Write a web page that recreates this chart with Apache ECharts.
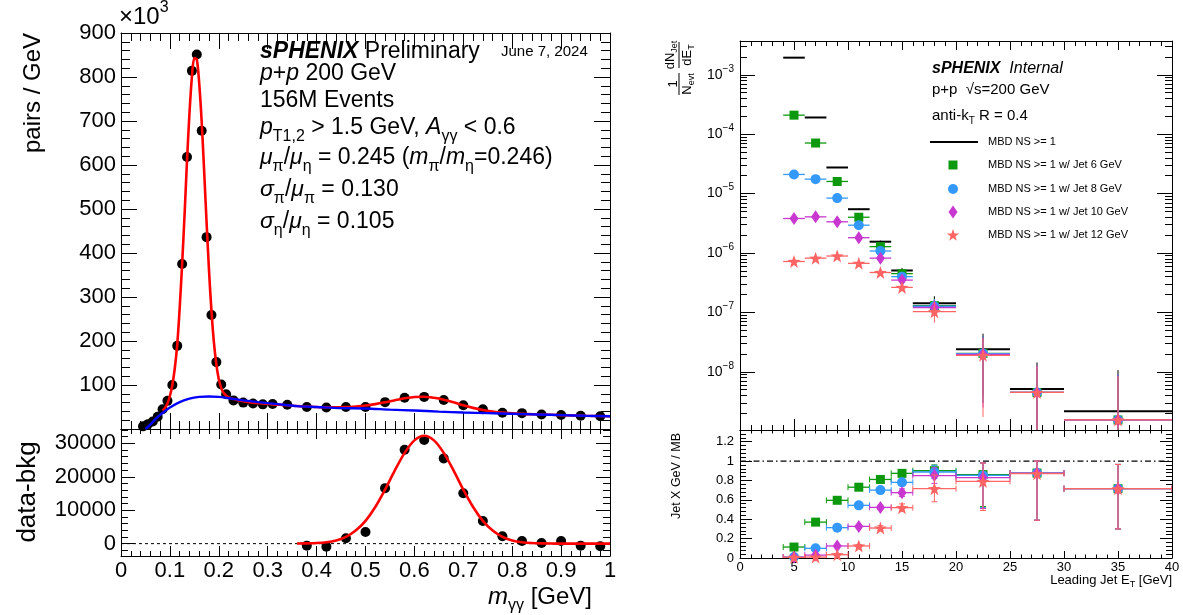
<!DOCTYPE html>
<html><head><meta charset="utf-8">
<script src="https://cdn.jsdelivr.net/npm/echarts@6/dist/echarts.min.js"></script>
<style>html,body{margin:0;padding:0;background:#fff}#c{width:1183px;height:615px}</style>
</head><body><div id="c"></div>
<script>
const FONT = '"Liberation Sans", Arial, Helvetica, sans-serif';

// ================= LEFT: diphoton invariant mass =================
const massX  = [0.045,0.055,0.065,0.075,0.085,0.095,0.105,0.115,0.125,0.135,0.145,0.155,0.165,0.175,0.185,0.195,0.205,0.215,0.23,0.25,0.27,0.29,0.31,0.34,0.38,0.42,0.46,0.50,0.54,0.58,0.62,0.66,0.70,0.74,0.78,0.82,0.86,0.90,0.94,0.98];
const pairsK = [6,11,17,28,45,64,100,189,375,618,814,851,678,436,259,152,101,79,65,60,58,56,57,55,50,49,50,50,61,71,73,66,54,45,37,36,33,32,30,29];

const bkgFitX = [0.05,0.06,0.07,0.08,0.09,0.10,0.12,0.14,0.16,0.18,0.20,0.22,0.25,0.28,0.32,0.36,0.40,0.45,0.50,0.55,0.60,0.65,0.70,0.75,0.80,0.85,0.90,0.95,1.0];
const bkgFitY = [0,10,22,32,41,49,61,69,73,74,73,70,65,61,56.5,52,50,47.5,46.5,44,42,39.5,37.5,36,34.5,33,31.5,30,29];

const pi0FitX = [0.085,0.09,0.095,0.10,0.105,0.11,0.115,0.12,0.125,0.13,0.135,0.14,0.145,0.15,0.155,0.16,0.165,0.17,0.175,0.18,0.185,0.19,0.195,0.20,0.205,0.21,0.215,0.22,0.23,0.25,0.27,0.29,0.31,0.33,0.35];
const pi0FitY = [42,48,58,75,100,138,192,275,375,487,610,717,800,843,840,785,698,587,470,360,268,197,147,113,93,82,76,72,68,63,60,58,56,54.5,53];

const etaFitX = [0.35,0.38,0.42,0.46,0.48,0.50,0.52,0.54,0.56,0.58,0.60,0.62,0.64,0.66,0.68,0.70,0.72,0.74,0.76,0.78,0.82,0.86,0.90,0.95,1.0];
const etaFitY = [53,51.1,49.4,49.8,51.1,53.3,56.5,60.7,65.4,69.7,72.9,73.3,70.9,66.7,60.7,53.7,48,43.2,39.9,37.3,34.4,33.1,31.5,30,29];

const subX = [0.38,0.42,0.46,0.50,0.54,0.58,0.62,0.66,0.70,0.74,0.78,0.82,0.86,0.90,0.94,0.98];
const subY = [-600,-900,1600,3500,16600,28100,31000,25500,15100,6750,2200,800,200,800,-600,-800];
const subFitX = [0.36,0.38,0.40,0.42,0.44,0.46,0.48,0.50,0.52,0.54,0.56,0.58,0.60,0.62,0.64,0.66,0.68,0.70,0.72,0.74,0.76,0.78,0.80,0.82,0.84,0.86,0.88,0.90,0.95,1.0];
const subFitY = [20,64,170,425,970,2030,3900,6800,10950,16150,21900,27150,30900,32300,30900,27150,21900,16150,10950,6800,3900,2030,970,425,170,64,20,6,0,0];
const subZero = 0;

const massTickLabels  = [0,0.1,0.2,0.3,0.4,0.5,0.6,0.7,0.8,0.9,1];
const pairsTickLabels = [100,200,300,400,500,600,700,800,900];
const subTickLabels   = [0,10000,20000,30000];

// ================= RIGHT: leading jet ET spectra =================
const etCenters = [5,7,9,11,13,15,18,22.5,27.5,35];
const etLow     = [4,6,8,10,12,14,16,20,25,30];
const etHigh    = [6,8,10,12,14,16,20,25,30,40];

const specMB    = [1.94e-3,1.91e-4,2.75e-5,5.46e-6,1.55e-6,5.08e-7,1.43e-7,2.39e-8,5.13e-9,2.17e-9];
const specMBHi  = [1.96e-3,1.93e-4,2.79e-5,5.6e-6,1.62e-6,5.6e-7,1.87e-7,4.4e-8,1.44e-8,1.07e-8];
const specMBLo  = [1.92e-3,1.89e-4,2.71e-5,5.3e-6,1.48e-6,4.6e-7,1.05e-7,4e-9,1e-10,1e-10];

const specJet6   = [2.09e-4,7.1e-5,1.6e-5,4.0e-6,1.28e-6,4.5e-7,1.30e-7,2.05e-8,4.5e-9,1.55e-9];
const specJet6Hi = [2.12e-4,7.25e-5,1.65e-5,4.15e-6,1.34e-6,4.9e-7,1.7e-7,4.0e-8,1.3e-8,9.2e-9];
const specJet6Lo = [2.06e-4,6.95e-5,1.55e-5,3.85e-6,1.22e-6,4.1e-7,0.95e-7,3e-9,1e-10,1e-10];

const specJet8   = [2.1e-5,1.75e-5,8.4e-6,2.94e-6,1.08e-6,4.0e-7,1.27e-7,2.03e-8,4.5e-9,1.55e-9];
const specJet8Hi = [2.15e-5,1.8e-5,8.7e-6,3.05e-6,1.14e-6,4.4e-7,1.68e-7,4.0e-8,1.3e-8,9.2e-9];
const specJet8Lo = [2.05e-5,1.7e-5,8.1e-6,2.83e-6,1.02e-6,3.6e-7,0.9e-7,3e-9,1e-10,1e-10];

const specJet10   = [3.81e-6,4.06e-6,3.35e-6,1.81e-6,8.2e-7,3.5e-7,1.21e-7,1.97e-8,4.5e-9,1.55e-9];
const specJet10Hi = [3.95e-6,4.2e-6,3.5e-6,1.9e-6,8.7e-7,3.85e-7,1.62e-7,3.9e-8,1.3e-8,9.0e-9];
const specJet10Lo = [3.67e-6,3.92e-6,3.2e-6,1.72e-6,7.7e-7,3.15e-7,0.85e-7,2.5e-9,1e-10,1e-10];

const specJet12   = [7.2e-7,8.2e-7,8.9e-7,6.7e-7,4.7e-7,2.64e-7,1.03e-7,1.9e-8,4.5e-9,1.55e-9];
const specJet12Hi = [7.55e-7,8.6e-7,9.3e-7,7.1e-7,5.05e-7,2.95e-7,1.5e-7,3.7e-8,1.26e-8,8.5e-9];
const specJet12Lo = [6.85e-7,7.8e-7,8.5e-7,6.3e-7,4.35e-7,2.35e-7,6.7e-8,1.74e-9,1e-10,1e-10];

const ratioJet6    = [0.113,0.37,0.595,0.73,0.81,0.873,0.90,0.86,0.876,0.715];
const ratioJet6Lo  = [0.108,0.362,0.585,0.718,0.795,0.855,0.84,0.53,0.39,0.30];
const ratioJet6Hi  = [0.118,0.378,0.605,0.742,0.825,0.891,0.96,0.98,1.0,0.965];
const ratioJet8    = [0.01,0.10,0.313,0.543,0.70,0.78,0.887,0.852,0.876,0.715];
const ratioJet8Lo  = [0.008,0.095,0.305,0.532,0.685,0.76,0.82,0.52,0.39,0.30];
const ratioJet8Hi  = [0.012,0.105,0.321,0.554,0.715,0.80,0.955,0.98,1.0,0.965];
const ratioJet10   = [0.007,0.03,0.124,0.326,0.522,0.674,0.85,0.828,0.876,0.715];
const ratioJet10Lo = [0.005,0.026,0.116,0.312,0.5,0.635,0.77,0.51,0.39,0.30];
const ratioJet10Hi = [0.009,0.034,0.132,0.34,0.544,0.713,0.93,0.98,1.0,0.965];
const ratioJet12   = [0.007,0.01,0.034,0.124,0.309,0.519,0.715,0.79,0.87,0.715];
const ratioJet12Lo = [0.005,0.007,0.028,0.108,0.285,0.48,0.58,0.49,0.39,0.30];
const ratioJet12Hi = [0.009,0.013,0.04,0.14,0.333,0.558,0.855,0.98,1.0,0.965];
const ratioRef = 1;

const etTickLabels    = [0,5,10,15,20,25,30,35,40];
const logTickLabels   = [1e-8,1e-7,1e-6,1e-5,1e-4,1e-3];
const ratioTickLabels = [0,0.2,0.4,0.6,0.8,1,1.2];

const legendNames = ['MBD NS >= 1','MBD NS >= 1 w/ Jet 6 GeV','MBD NS >= 1 w/ Jet 8 GeV','MBD NS >= 1 w/ Jet 10 GeV','MBD NS >= 1 w/ Jet 12 GeV'];
const COLORS = {mb:'#000000', j6:'#0d990d', j8:'#3399ff', j10:'#c837cf', j12:'#ff6464'};

// ---------------- axis ranges ----------------
const MASS = [0, 1], PAIRS = [0, 900], SUB = [-3700, 34300];
const ET = [0, 40], SPEC = [1.05e-9, 3.7e-3], RATIO = [0, 1.32];

function range(a, b, step) { const out = []; for (let v = a; v <= b + step * 1e-6; v += step) out.push(Math.round(v * 1e6) / 1e6); return out; }
function logMinor(e0, e1) { const out = []; for (let e = e0; e <= e1; e++) for (let k = 2; k <= 9; k++) out.push(k * Math.pow(10, e)); return out; }

const xAxes = [], yAxes = [];
function addAxes(list, gridIndex, position, type, ext, majors, minors, majLen, minLen, label) {
  const common = {type, gridIndex, position, min: ext[0], max: ext[1],
    splitLine: {show: false}, minorTick: {show: false}, minorSplitLine: {show: false}};
  if (type === 'log') common.logBase = 10;
  const maj = Object.assign({}, common, {
    axisLine: {show: true, onZero: false, lineStyle: {color: '#000', width: 1}},
    axisTick: {show: true, inside: true, length: majLen, customValues: majors, lineStyle: {color: '#000', width: 1}},
    axisLabel: label ? Object.assign({show: true, customValues: label.values, color: '#000', fontFamily: FONT, hideOverlap: false}, label.style) : {show: false}
  });
  const mnr = Object.assign({}, common, {
    axisLine: {show: false, onZero: false},
    axisTick: {show: true, inside: true, length: minLen, customValues: minors, lineStyle: {color: '#000', width: 1}},
    axisLabel: {show: false}
  });
  list.push(maj, mnr);
  return list.length - 2;
}
const plain = v => String(v);

// grid 0: left top
const massMaj = range(0, 1, 0.1), massMin = range(0, 1, 0.02);
const gx0 = addAxes(xAxes, 0, 'bottom', 'value', MASS, massMaj, massMin, 16, 8, null);
addAxes(xAxes, 0, 'top', 'value', MASS, massMaj, massMin, 16, 8, null);
const gy0 = addAxes(yAxes, 0, 'left', 'value', PAIRS, range(0, 900, 100), range(0, 900, 20), 16, 9,
  {values: pairsTickLabels, style: {fontSize: 22, margin: 5, formatter: plain}});
addAxes(yAxes, 0, 'right', 'value', PAIRS, range(0, 900, 100), range(0, 900, 20), 16, 9, null);
// grid 1: left bottom
const gx1 = addAxes(xAxes, 1, 'bottom', 'value', MASS, massMaj, massMin, 10, 5,
  {values: massTickLabels, style: {fontSize: 22, margin: 4, formatter: plain}});
addAxes(xAxes, 1, 'top', 'value', MASS, massMaj, massMin, 10, 5, null);
const gy1 = addAxes(yAxes, 1, 'left', 'value', SUB, subTickLabels, range(-2000, 34000, 2000), 14, 7,
  {values: subTickLabels, style: {fontSize: 22, margin: 5, formatter: plain}});
addAxes(yAxes, 1, 'right', 'value', SUB, subTickLabels, range(-2000, 34000, 2000), 14, 7, null);
// grid 2: right top
const etMaj = range(0, 40, 5), etMin = range(0, 40, 1);
const gx2 = addAxes(xAxes, 2, 'bottom', 'value', ET, etMaj, etMin, 11, 5, null);
addAxes(xAxes, 2, 'top', 'value', ET, etMaj, etMin, 9, 5, null);
const logLabelStyle = {
  fontSize: 14, margin: 6,
  formatter: v => { const e = Math.round(Math.log10(v)); return '{b|10}{s|' + (e < 0 ? '\u2212' : '') + Math.abs(e) + '}'; },
  rich: {b: {fontSize: 14, lineHeight: 22, fontFamily: FONT, color: '#000'}, s: {fontSize: 10, lineHeight: 10, verticalAlign: 'top', fontFamily: FONT, color: '#000'}}
};
const gy2 = addAxes(yAxes, 2, 'left', 'log', SPEC, logTickLabels, logMinor(-9, -3), 15, 7, {values: logTickLabels, style: logLabelStyle});
addAxes(yAxes, 2, 'right', 'log', SPEC, logTickLabels, logMinor(-9, -3), 15, 7, null);
// grid 3: right bottom
const gx3 = addAxes(xAxes, 3, 'bottom', 'value', ET, etMaj, etMin, 7, 3.5,
  {values: etTickLabels, style: {fontSize: 13, margin: 3, formatter: plain}});
addAxes(xAxes, 3, 'top', 'value', ET, etMaj, etMin, 7, 3.5, null);
const gy3 = addAxes(yAxes, 3, 'left', 'value', RATIO, range(0, 1.2, 0.2), range(0, 1.32, 0.04), 12, 6,
  {values: ratioTickLabels, style: {fontSize: 13, margin: 6, formatter: plain}});
addAxes(yAxes, 3, 'right', 'value', RATIO, range(0, 1.2, 0.2), range(0, 1.32, 0.04), 12, 6, null);

// ---------------- series helpers ----------------
const zip = (xs, ys) => xs.map((x, i) => [x, ys[i]]);

function errSeries(name, xi, yi, color, vals, lo, hi, hw, vw, cap, z) {
  const data = etCenters.map((x, i) => [x, vals[i], etLow[i], etHigh[i], lo[i], hi[i]]);
  return {
    type: 'custom', name, xAxisIndex: xi, yAxisIndex: yi, clip: true, silent: true, z,
    encode: {x: 0, y: 1}, data,
    renderItem: (params, api) => {
      const y = api.value(1), x = api.value(0);
      const pL = api.coord([api.value(2), y]), pR = api.coord([api.value(3), y]);
      const pB = api.coord([x, api.value(4)]), pT = api.coord([x, api.value(5)]);
      const ch = [
        {type: 'line', shape: {x1: pL[0], y1: pL[1], x2: pR[0], y2: pR[1]}, style: {stroke: color, lineWidth: hw}},
        {type: 'line', shape: {x1: pB[0], y1: pB[1], x2: pT[0], y2: pT[1]}, style: {stroke: color, lineWidth: vw}}
      ];
      if (cap) {
        ch.push({type: 'line', shape: {x1: pL[0], y1: pL[1] - cap, x2: pL[0], y2: pL[1] + cap}, style: {stroke: color, lineWidth: 1}});
        ch.push({type: 'line', shape: {x1: pR[0], y1: pR[1] - cap, x2: pR[0], y2: pR[1] + cap}, style: {stroke: color, lineWidth: 1}});
        ch.push({type: 'line', shape: {x1: pB[0] - cap, y1: pB[1], x2: pB[0] + cap, y2: pB[1]}, style: {stroke: color, lineWidth: 1}});
        ch.push({type: 'line', shape: {x1: pT[0] - cap, y1: pT[1], x2: pT[0] + cap, y2: pT[1]}, style: {stroke: color, lineWidth: 1}});
      }
      return {type: 'group', children: ch};
    }
  };
}
const STAR = 'path://M50,0L62,34L98,35L69,56L79,91L50,70L21,91L31,56L2,35L38,34Z';
function markSeries(name, xi, yi, color, vals, symbol, size, z) {
  return {type: 'scatter', name, xAxisIndex: xi, yAxisIndex: yi, symbol, symbolSize: size, z,
    itemStyle: {color, opacity: 1}, silent: true, data: zip(etCenters, vals)};
}

const series = [
  // left top
  {type: 'scatter', name: 'data', xAxisIndex: gx0, yAxisIndex: gy0, symbol: 'circle', symbolSize: 10, z: 2,
   itemStyle: {color: '#000', opacity: 1}, data: zip(massX, pairsK)},
  {type: 'line', name: 'fit pi0', xAxisIndex: gx0, yAxisIndex: gy0, smooth: 0.3, showSymbol: false, symbol: 'none', z: 3,
   lineStyle: {color: '#ff0000', width: 2.6}, data: zip(pi0FitX, pi0FitY)},
  {type: 'line', name: 'fit eta', xAxisIndex: gx0, yAxisIndex: gy0, smooth: 0.3, showSymbol: false, symbol: 'none', z: 3,
   lineStyle: {color: '#ff0000', width: 2.6}, data: zip(etaFitX, etaFitY)},
  {type: 'line', name: 'bkg', xAxisIndex: gx0, yAxisIndex: gy0, smooth: 0.3, showSymbol: false, symbol: 'none', z: 4,
   lineStyle: {color: '#0000ff', width: 2.4}, data: zip(bkgFitX, bkgFitY)},
  // left bottom
  {type: 'line', name: 'zero', xAxisIndex: gx1, yAxisIndex: gy1, symbol: 'none', z: 1,
   lineStyle: {color: '#000', width: 1, type: [3, 3]}, data: [[MASS[0], subZero], [MASS[1], subZero]]},
  {type: 'scatter', name: 'data-bkg', xAxisIndex: gx1, yAxisIndex: gy1, symbol: 'circle', symbolSize: 10, z: 2,
   itemStyle: {color: '#000', opacity: 1}, data: zip(subX, subY)},
  {type: 'line', name: 'eta gauss', xAxisIndex: gx1, yAxisIndex: gy1, smooth: 0.3, symbol: 'none', z: 3,
   lineStyle: {color: '#ff0000', width: 2.6}, data: zip(subFitX, subFitY)},
  // right top
  errSeries(legendNames[0], gx2, gy2, COLORS.mb, specMB, specMBLo, specMBHi, 2, 1, 0, 3),
  errSeries(legendNames[1], gx2, gy2, COLORS.j6, specJet6, specJet6Lo, specJet6Hi, 1.3, 1, 0, 4),
  markSeries(legendNames[1], gx2, gy2, COLORS.j6, specJet6, 'rect', 9, 5),
  errSeries(legendNames[2], gx2, gy2, COLORS.j8, specJet8, specJet8Lo, specJet8Hi, 1.3, 1, 0, 6),
  markSeries(legendNames[2], gx2, gy2, COLORS.j8, specJet8, 'circle', 10, 7),
  errSeries(legendNames[3], gx2, gy2, COLORS.j10, specJet10, specJet10Lo, specJet10Hi, 1.3, 1, 0, 8),
  markSeries(legendNames[3], gx2, gy2, COLORS.j10, specJet10, 'diamond', [9, 13], 9),
  errSeries(legendNames[4], gx2, gy2, COLORS.j12, specJet12, specJet12Lo, specJet12Hi, 1.3, 1, 0, 10),
  markSeries(legendNames[4], gx2, gy2, COLORS.j12, specJet12, STAR, 13, 11),
  // right bottom
  {type: 'line', name: 'unity', xAxisIndex: gx3, yAxisIndex: gy3, symbol: 'none', z: 1,
   lineStyle: {color: '#000', width: 1.2, type: [6, 3, 1.5, 3]}, data: [[ET[0], ratioRef], [ET[1], ratioRef]]},
  errSeries('r6', gx3, gy3, COLORS.j6, ratioJet6, ratioJet6Lo, ratioJet6Hi, 1.3, 1, 3, 4),
  markSeries('r6', gx3, gy3, COLORS.j6, ratioJet6, 'rect', 9, 5),
  errSeries('r8', gx3, gy3, COLORS.j8, ratioJet8, ratioJet8Lo, ratioJet8Hi, 1.3, 1, 3, 6),
  markSeries('r8', gx3, gy3, COLORS.j8, ratioJet8, 'circle', 10, 7),
  errSeries('r10', gx3, gy3, COLORS.j10, ratioJet10, ratioJet10Lo, ratioJet10Hi, 1.3, 1, 3, 8),
  markSeries('r10', gx3, gy3, COLORS.j10, ratioJet10, 'diamond', [9, 13], 9),
  errSeries('r12', gx3, gy3, COLORS.j12, ratioJet12, ratioJet12Lo, ratioJet12Hi, 1.3, 1, 3, 10),
  markSeries('r12', gx3, gy3, COLORS.j12, ratioJet12, STAR, 13, 11)
];

// ---------------- text (graphic) ----------------
function T(x, y, text, rich, extra) {
  return Object.assign({type: 'text', x, y, silent: true, z: 100,
    style: Object.assign({text, rich, fill: '#000', align: 'left', verticalAlign: 'middle', fontFamily: FONT}, (extra && extra.style) || {})},
    (extra && extra.el) || {});
}
const LR = {
  n:  {fontSize: 23, lineHeight: 34, fontFamily: FONT},
  i:  {fontSize: 23, lineHeight: 34, fontFamily: FONT, fontStyle: 'italic'},
  bi: {fontSize: 23, lineHeight: 34, fontFamily: FONT, fontStyle: 'italic', fontWeight: 'bold'},
  s:  {fontSize: 16, lineHeight: 16, fontFamily: FONT, verticalAlign: 'bottom'},
  d:  {fontSize: 15, lineHeight: 34, fontFamily: FONT},
  p:  {fontSize: 16, lineHeight: 16, fontFamily: FONT, verticalAlign: 'top'},
  t:  {fontSize: 24, lineHeight: 34, fontFamily: FONT},
  ti: {fontSize: 24, lineHeight: 34, fontFamily: FONT, fontStyle: 'italic'}
};
const RR = {
  n:  {fontSize: 15, lineHeight: 20, fontFamily: FONT},
  i:  {fontSize: 16, lineHeight: 20, fontFamily: FONT, fontStyle: 'italic'},
  bi: {fontSize: 16, lineHeight: 20, fontFamily: FONT, fontStyle: 'italic', fontWeight: 'bold'},
  s:  {fontSize: 10, lineHeight: 10, fontFamily: FONT, verticalAlign: 'bottom'},
  l:  {fontSize: 11, lineHeight: 14, fontFamily: FONT},
  a:  {fontSize: 13, lineHeight: 18, fontFamily: FONT},
  as: {fontSize: 9, lineHeight: 9, fontFamily: FONT, verticalAlign: 'bottom'}
};
const ROT = Math.PI / 2;
const graphic = [
  // left panel texts
  T(119, 17, '{t|×10}{p|3}', LR),
  T(33, 93, '{t|pairs / GeV}', LR, {style: {align: 'center'}, el: {rotation: ROT}}),
  T(28, 492, '{t|data-bkg}', Object.assign({}, LR, {t: {fontSize: 26, lineHeight: 34, fontFamily: FONT}}), {style: {align: 'center'}, el: {rotation: ROT}}),
  T(592, 597, '{ti|m}{s|γγ}{t| [GeV]}', LR, {style: {align: 'right'}}),
  T(260, 52, '{bi|sPHENIX}{n| Preliminary}', LR),
  T(501, 52, '{d|June 7, 2024}', LR),
  T(260, 74, '{i|p}{n|+}{i|p}{n| 200 GeV}', LR),
  T(260, 101, '{n|156M Events}', LR),
  T(260, 128, '{i|p}{s|T1,2}{n| > 1.5 GeV, }{i|A}{s|γγ}{n| < 0.6}', LR),
  T(260, 158, '{i|μ}{s|π}{n|/}{i|μ}{s|η}{n| = 0.245 (}{i|m}{s|π}{n|/}{i|m}{s|η}{n|=0.246)}', LR),
  T(260, 190, '{i|σ}{s|π}{n|/}{i|μ}{s|π}{n| = 0.130}', LR),
  T(260, 222, '{i|σ}{s|η}{n|/}{i|μ}{s|η}{n| = 0.105}', LR),
  // right panel texts
  T(932, 69, '{bi|sPHENIX}{i|  Internal}', RR),
  T(932, 90, '{n|p+p  √s=200 GeV}', RR),
  T(932, 116, '{n|anti-k}{s|T}{n| R = 0.4}', RR),
  T(1172, 580, '{a|Leading Jet E}{as|T}{a| [GeV]}', RR, {style: {align: 'right'}}),
  T(677, 476, '{l|Jet X GeV / MB}', Object.assign({}, RR, {l: {fontSize: 12.5, lineHeight: 16, fontFamily: FONT}}), {style: {align: 'center'}, el: {rotation: ROT}}),
  // y-title fraction
  T(673, 84, '{a|1}', RR, {style: {align: 'center'}, el: {rotation: ROT}}),
  T(687, 84, '{a|N}{as|evt}', RR, {style: {align: 'center'}, el: {rotation: ROT}}),
  {type: 'line', silent: true, shape: {x1: 679, y1: 73, x2: 679, y2: 95}, style: {stroke: '#000', lineWidth: 1}},
  T(670, 55, '{a|dN}{as|Jet}', RR, {style: {align: 'center'}, el: {rotation: ROT}}),
  T(687, 55, '{a|dE}{as|T}', RR, {style: {align: 'center'}, el: {rotation: ROT}}),
  {type: 'line', silent: true, shape: {x1: 679, y1: 42, x2: 679, y2: 68}, style: {stroke: '#000', lineWidth: 1}},
  // legend
  {type: 'line', silent: true, shape: {x1: 930, y1: 142, x2: 978, y2: 142}, style: {stroke: COLORS.mb, lineWidth: 2}},
  {type: 'rect', silent: true, shape: {x: 948.5, y: 160.5, width: 9, height: 9}, style: {fill: COLORS.j6}},
  {type: 'circle', silent: true, shape: {cx: 953, cy: 189, r: 5}, style: {fill: COLORS.j8}},
  {type: 'polygon', silent: true, shape: {points: [[953, 205.5], [957.5, 212], [953, 218.5], [948.5, 212]]}, style: {fill: COLORS.j10}},
  {type: 'polygon', silent: true, shape: {points: [[50,0],[62,34],[98,35],[69,56],[79,91],[50,70],[21,91],[31,56],[2,35],[38,34]].map(p => [946.5 + p[0] * 0.13, 229 + p[1] * 0.13])}, style: {fill: COLORS.j12}}
];
legendNames.forEach((nm, i) => graphic.push(T(988, [142, 165, 189, 212, 235][i], '{l|' + nm + '}', RR)));

const chart = echarts.init(document.getElementById('c'), null, {renderer: 'canvas'});
chart.setOption({
  animation: false,
  backgroundColor: '#ffffff',
  textStyle: {fontFamily: FONT},
  grid: [
    {left: 121, top: 33, width: 489, height: 396, outerBoundsMode: 'none'},
    {left: 121, top: 429, width: 489, height: 127, outerBoundsMode: 'none'},
    {left: 740, top: 41, width: 432, height: 389, outerBoundsMode: 'none'},
    {left: 740, top: 430, width: 432, height: 128, outerBoundsMode: 'none'}
  ],
  xAxis: xAxes,
  yAxis: yAxes,
  series,
  graphic
});
</script></body></html>
